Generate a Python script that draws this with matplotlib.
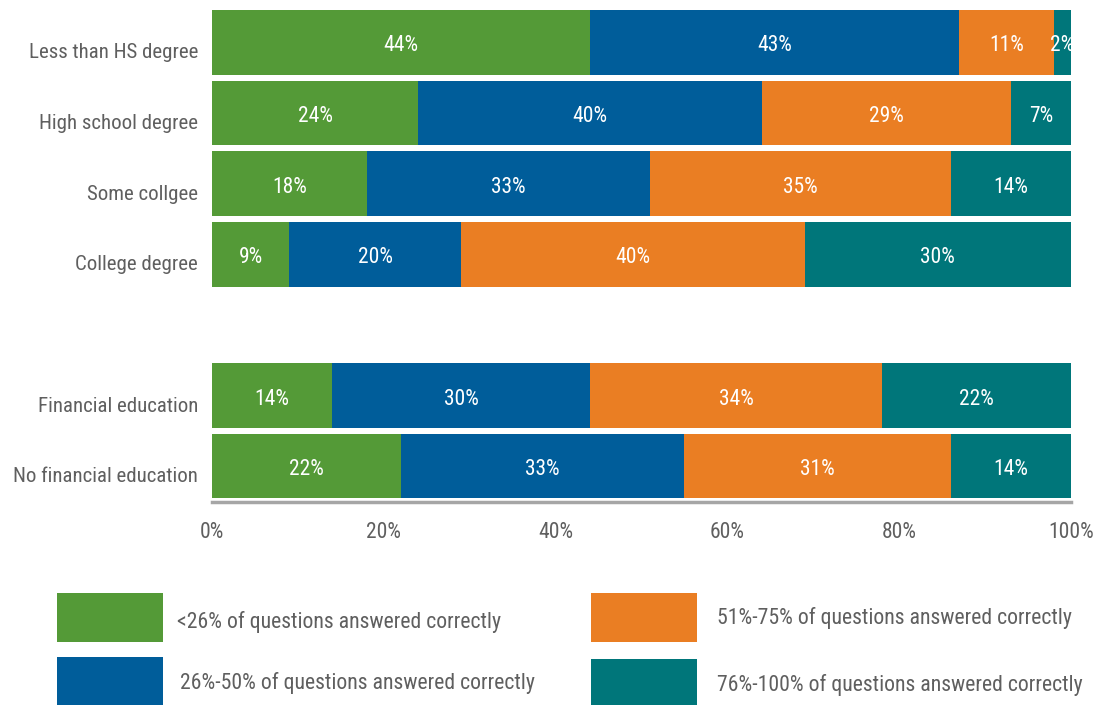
import matplotlib
matplotlib.use("Agg")
import matplotlib.pyplot as plt
from matplotlib.patches import Rectangle

categories = ["Less than HS degree", "High school degree", "Some collgee", "College degree",
              "Financial education", "No financial education"]
row_pos = [0, 1, 2, 3, 5, 6]
series_names = ["<26% of questions answered correctly", "26%-50% of questions answered correctly",
                "51%-75% of questions answered correctly", "76%-100% of questions answered correctly"]
low = [44, 24, 18, 9, 14, 22]
mid_low = [43, 40, 33, 20, 30, 33]
mid_high = [11, 29, 35, 40, 34, 31]
high = [2, 7, 14, 31, 22, 14]
label_texts = [
    ["44%", "24%", "18%", "9%", "14%", "22%"],
    ["43%", "40%", "33%", "20%", "30%", "33%"],
    ["11%", "29%", "35%", "40%", "34%", "31%"],
    ["2%", "7%", "14%", "30%", "22%", "14%"],
]
xticks = [0, 20, 40, 60, 80, 100]
xticklabels = ["0%", "20%", "40%", "60%", "80%", "100%"]
colors = ["#549A37", "#005D9A", "#EA7E23", "#00767A"]
text_gray = "#5F5F5F"

plt.rcParams["font.family"] = ["Roboto Condensed", "DejaVu Sans"]

W, H = 1112, 705
fig = plt.figure(figsize=(W / 100, H / 100), dpi=100)
ax = fig.add_axes([212 / W, (H - 501.5) / H, (1071 - 212) / W, (501.5 - 7) / H])

series = [low, mid_low, mid_high, high]
left = [0] * len(categories)
for s, vals in enumerate(series):
    bars = ax.barh(row_pos, vals, left=left, height=0.915, color=colors[s], label=series_names[s])
    for i, b in enumerate(bars):
        ax.text(b.get_x() + b.get_width() / 2, b.get_y() + b.get_height() / 2 + 0.05, label_texts[s][i],
                ha="center", va="center", color="white", fontsize=15.5)
    left = [l + v for l, v in zip(left, vals)]

ax.set_ylim(6.5, -0.5)
ax.set_xlim(0, 100)
ax.set_yticks([p + 0.12 for p in row_pos])
ax.set_yticklabels(categories, fontsize=15, color=text_gray)
ax.set_xticks(xticks)
ax.set_xticklabels(xticklabels, fontsize=15.5, color=text_gray)
ax.tick_params(axis="both", length=0)
ax.tick_params(axis="y", pad=10)
ax.tick_params(axis="x", pad=15)
for sp in ["top", "right", "left"]:
    ax.spines[sp].set_visible(False)
ax.spines["bottom"].set_color("#A6A6A6")
ax.spines["bottom"].set_linewidth(2.5)

# legend drawn in figure pixel coordinates
legend_boxes = [(57, 593, 106, 49), (57, 657, 106, 48), (591, 593, 106, 49), (591, 659, 106, 46)]
legend_text_pos = [(177, 622), (180, 683), (717, 618), (717, 685)]
for s in range(4):
    x, y, w, h = legend_boxes[s]
    fig.add_artist(Rectangle((x / W, (H - y - h) / H), w / W, h / H, transform=fig.transFigure,
                             color=colors[s], lw=0))
    tx, ty = legend_text_pos[s]
    fig.text(tx / W, (H - ty) / H, series_names[s], ha="left", va="center",
             fontsize=15.7, color=text_gray)

fig.savefig("out.png", dpi=100)
